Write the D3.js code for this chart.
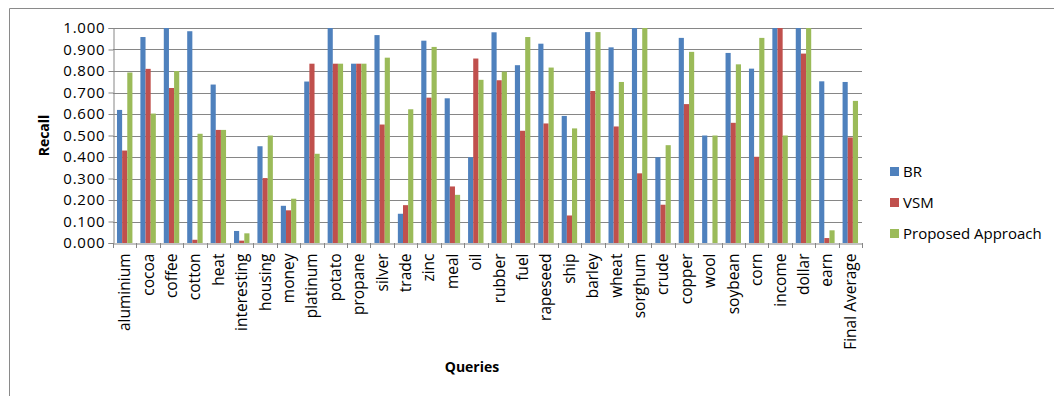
<!DOCTYPE html>
<html>
<head>
<meta charset="utf-8">
<script src="https://cdn.jsdelivr.net/npm/d3@7"></script>
<style>
  body { margin: 0; background: #fff; }
  text { font-family: "Open Sans", Lato, sans-serif; }
</style>
</head>
<body>
<script>
const queries = [
  'aluminium', 'cocoa', 'coffee', 'cotton', 'heat', 'interesting', 'housing',
  'money', 'platinum', 'potato', 'propane', 'silver', 'trade', 'zinc', 'meal',
  'oil', 'rubber', 'fuel', 'rapeseed', 'ship', 'barley', 'wheat', 'sorghum',
  'crude', 'copper', 'wool', 'soybean', 'corn', 'income', 'dollar', 'earn',
  'Final Average',
]
const br = [
  0.619, 0.958, 1.0, 0.985, 0.737, 0.056, 0.450, 0.173, 0.751, 1.0, 0.834,
  0.967, 0.136, 0.941, 0.673, 0.399, 0.980, 0.827, 0.927, 0.591, 0.981, 0.910,
  1.0, 0.399, 0.954, 0.500, 0.884, 0.811, 1.0, 1.0, 0.752, 0.749,
]
const vsm = [
  0.430, 0.810, 0.721, 0.015, 0.526, 0.011, 0.302, 0.152, 0.834, 0.834, 0.834,
  0.551, 0.176, 0.676, 0.263, 0.858, 0.757, 0.522, 0.556, 0.128, 0.707, 0.542,
  0.324, 0.178, 0.646, 0.0, 0.559, 0.401, 1.0, 0.881, 0.023, 0.491,
]
const proposed = [
  0.793, 0.602, 0.800, 0.508, 0.526, 0.045, 0.500, 0.206, 0.415, 0.834, 0.834,
  0.862, 0.622, 0.912, 0.224, 0.759, 0.797, 0.958, 0.816, 0.533, 0.981, 0.749,
  1.0, 0.455, 0.889, 0.500, 0.831, 0.954, 0.500, 1.0, 0.059, 0.661,
]
const seriesNames = ['BR', 'VSM', 'Proposed Approach']
const seriesColors = ['#4F81BD', '#C0504D', '#9BBB59']
const yTicks = [0, 0.1, 0.2, 0.3, 0.4, 0.5, 0.6, 0.7, 0.8, 0.9, 1.0]

const width = 1054
const height = 396
const plotLeft = 113
const plotRight = 862
const plotTop = 28
const plotBottom = 243

const svg = d3.select('body').append('svg')
  .attr('width', width)
  .attr('height', height)

// outer frame (only top and left visible)
svg.append('line').attr('x1', 9.5).attr('x2', width).attr('y1', 8.5).attr('y2', 8.5)
  .attr('stroke', '#8a8a8a')
svg.append('line').attr('x1', 9.5).attr('x2', 9.5).attr('y1', 8.5).attr('y2', height)
  .attr('stroke', '#8a8a8a')

const x0 = d3.scaleBand().domain(queries).range([plotLeft, plotRight])
  .paddingInner(0.34).paddingOuter(0.17)
const x1 = d3.scaleBand().domain(seriesNames).range([0, x0.bandwidth()])
const y = d3.scaleLinear().domain([0, 1]).range([plotBottom, plotTop])

// gridlines
svg.append('g')
  .selectAll('line')
  .data(yTicks.slice(1))
  .enter()
  .append('line')
  .attr('x1', plotLeft).attr('x2', plotRight)
  .attr('y1', (d) => Math.round(y(d)) + 0.5)
  .attr('y2', (d) => Math.round(y(d)) + 0.5)
  .attr('stroke', '#868686')

// bars
const rows = queries.map((q, i) => [br[i], vsm[i], proposed[i]])
const groups = svg.append('g')
  .selectAll('g')
  .data(rows)
  .enter()
  .append('g')
  .attr('transform', (d, i) => `translate(${x0(queries[i])},0)`)

groups.selectAll('rect')
  .data((d) => d.map((v, k) => ({ v, k })))
  .enter()
  .append('rect')
  .attr('x', (d) => x1(seriesNames[d.k]))
  .attr('width', x1.bandwidth())
  .attr('y', (d) => y(d.v))
  .attr('height', (d) => plotBottom - y(d.v))
  .attr('fill', (d) => seriesColors[d.k])

// y axis
const yAxis = svg.append('g')
  .attr('transform', `translate(${plotLeft + 0.5},0)`)
  .call(d3.axisLeft(y).tickValues(yTicks).tickFormat(d3.format('.3f')).tickSize(5))
yAxis.select('.domain').attr('stroke', '#868686')
yAxis.selectAll('.tick line').attr('stroke', '#868686')
yAxis.selectAll('.tick text')
  .attr('font-size', 15)
  .attr('font-family', '"DejaVu Sans", sans-serif')
  .attr('letter-spacing', 0.8)
  .attr('fill', '#000')
  .attr('x', -8)

// x axis
const xAxis = svg.append('g')
  .attr('transform', `translate(0,${plotBottom + 0.5})`)
  .call(d3.axisBottom(x0).tickSize(0).tickSizeOuter(0))
xAxis.select('.domain').attr('stroke', '#868686')
xAxis.selectAll('.tick text')
  .attr('font-size', 15.5)
  .attr('font-family', '"Open Sans", sans-serif')
  .attr('fill', '#000')
  .attr('transform', 'rotate(-90)')
  .attr('text-anchor', 'end')
  .attr('dy', '0.35em')
  .attr('x', -10)
  .attr('y', 0)
// category separators
const step = x0.step()
svg.append('g')
  .selectAll('line')
  .data(d3.range(queries.length + 1))
  .enter()
  .append('line')
  .attr('x1', (i) => Math.round(plotLeft + i * step) + 0.5)
  .attr('x2', (i) => Math.round(plotLeft + i * step) + 0.5)
  .attr('y1', plotBottom)
  .attr('y2', plotBottom + 5)
  .attr('stroke', '#868686')

// axis titles
svg.append('text')
  .attr('transform', `translate(49,${(plotTop + plotBottom) / 2}) rotate(-90)`)
  .attr('text-anchor', 'middle')
  .attr('font-size', 14)
  .attr('font-weight', 'bold')
  .text('Recall')
svg.append('text')
  .attr('x', 472).attr('y', 372)
  .attr('text-anchor', 'middle')
  .attr('font-size', 14)
  .attr('font-weight', 'bold')
  .text('Queries')

// legend
const legend = svg.append('g')
  .selectAll('g')
  .data(seriesNames)
  .enter()
  .append('g')
  .attr('transform', (d, i) => `translate(890,${172 + i * 31})`)
legend.append('rect')
  .attr('x', 0).attr('y', -5).attr('width', 9).attr('height', 9)
  .attr('fill', (d, i) => seriesColors[i])
legend.append('text')
  .attr('x', 13).attr('y', 0).attr('dy', '0.35em')
  .attr('font-size', 15)
  .text((d) => d)
</script>
</body>
</html>
